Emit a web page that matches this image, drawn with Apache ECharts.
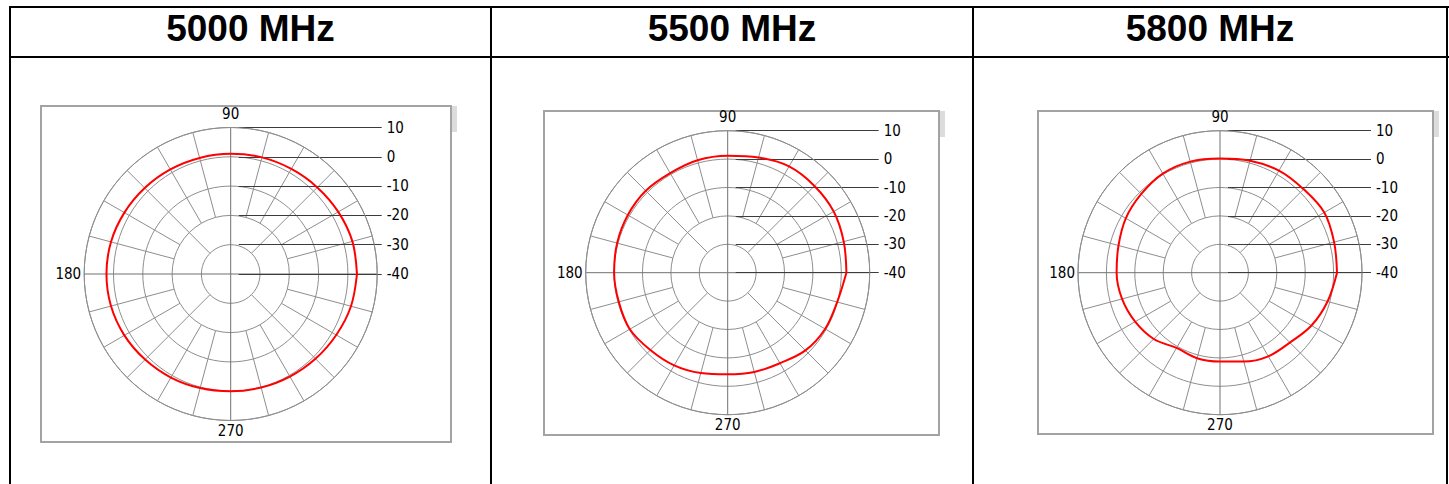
<!DOCTYPE html>
<html>
<head>
<meta charset="utf-8">
<title>Radiation patterns</title>
<script src="https://cdn.jsdelivr.net/npm/echarts@6/dist/echarts.min.js"></script>
<style>
html, body { margin: 0; padding: 0; background: #fff; }
#page { position: relative; width: 1449px; height: 484px; overflow: hidden; }
.ln { position: absolute; background: #000; }
.head { position: absolute; top: 8px; height: 49px; line-height: 49px; text-align: center;
        font: bold 37px 'Liberation Sans', Arial, sans-serif; color: #000; }
.box { position: absolute; border: 2px solid #a3a3a3; box-sizing: border-box; background: #fff; }
.stub { position: absolute; width: 5px; height: 26px; background: #dcdcdc; }
#chart { position: absolute; left: 0; top: 0; width: 1449px; height: 484px; }
</style>
</head>
<body>
<div id="page">
    <!-- table frame -->
    <div class="ln" style="left:9px;top:6px;width:1440px;height:2px"></div>
    <div class="ln" style="left:9px;top:56px;width:1440px;height:2px"></div>
    <div class="ln" style="left:9px;top:6px;width:2px;height:478px"></div>
    <div class="ln" style="left:490px;top:6px;width:2px;height:478px"></div>
    <div class="ln" style="left:972px;top:6px;width:2px;height:478px"></div>
    <div class="ln" style="left:1446px;top:6px;width:2px;height:478px"></div>

    <div class="head" style="left:11px;width:479px">5000 MHz</div>
    <div class="head" style="left:492px;width:480px">5500 MHz</div>
    <div class="head" style="left:974px;width:472px">5800 MHz</div>

    <!-- plot frames -->
    <div class="box" style="left:40px;top:105px;width:412px;height:338px"></div>
    <div class="stub" style="left:452px;top:106px"></div>
    <div class="box" style="left:543px;top:110px;width:397px;height:326px"></div>
    <div class="stub" style="left:940px;top:111px"></div>
    <div class="box" style="left:1037px;top:110px;width:397px;height:325px"></div>
    <div class="stub" style="left:1434px;top:111px"></div>

    <div id="chart"></div>
</div>

<script>
// angles in degrees, gain in dB
const angles = [0, 15, 30, 45, 60, 75, 90, 105, 120, 135, 150, 165,
                180, 195, 210, 225, 240, 255, 270, 285, 300, 315, 330, 345];

const gain5000 = [3.1, 3.0, 2.4, 1.8, 1.4, 1.2, 1.0, 1.0, 1.2, 1.5, 1.9, 2.3,
                  2.4, 2.3, 1.9, 1.3, 0.8, 0.3, 0.0, 0.1, 0.4, 0.9, 1.6, 2.5];
const gain5500 = [1.8, 2.3, 3.1, 3.2, 3.2, 2.0, 1.2, 1.0, 0.5, 0.8, 0.6, 0.3,
                  0.0, -0.3, -0.2, -1.5, -2.3, -3.4, -4.2, -3.8, -3.2, -1.3, -0.4, -0.1];
const gain5800 = [1.2, 1.6, 2.4, 1.6, 1.5, 0.8, 0.2, 0.5, 0.3, -0.8, -1.7, -3.0,
                  -3.6, -4.3, -5.5, -7.0, -9.4, -8.8, -8.7, -7.6, -6.0, -5.2, -2.8, -0.8];

const ringTicks = [10, 0, -10, -20, -30, -40];
const angleLabels = [90, 180, 270];

const panels = [
    { cx: 230.7, cy: 274, R: 146.5, gain: gain5000 },
    { cx: 727.7, cy: 272.7, R: 142, gain: gain5500 },
    { cx: 1220, cy: 272.7, R: 142, gain: gain5800 }
];

const FONT = "'Liberation Sans Narrow', 'DejaVu Sans Condensed', 'Liberation Sans', sans-serif";
const GRID_GRAY = '#8e8e8e';
const AXIS_GRAY = '#707070';
const NONE = 'rgba(0,0,0,0)';

const chart = echarts.init(document.getElementById('chart'), null, { renderer: 'svg' });

const polar = [], angleAxis = [], radiusAxis = [], grid = [], xAxis = [], yAxis = [], series = [];

panels.forEach((p, i) => {
    const base = i * 3;

    // main polar: rings, outer circle, the two axes, angle labels, data
    polar.push({ center: [p.cx, p.cy], radius: [0, p.R] });
    angleAxis.push({
        polarIndex: base, type: 'value', min: 0, max: 360, interval: 90,
        startAngle: 0, clockwise: false,
        axisLine: { show: true, lineStyle: { color: GRID_GRAY, width: 1 } },
        axisTick: { show: false },
        axisLabel: {
            margin: 3, color: '#000', fontSize: 15, fontFamily: FONT,
            formatter: v => angleLabels.indexOf(v) >= 0 ? (v === 90 ? '{t|90}' : String(v)) : '',
            rich: { t: { padding: [0, 0, 3, 0], color: '#000', fontSize: 15, fontFamily: FONT } }
        },
        splitLine: { show: true, lineStyle: { color: AXIS_GRAY, width: 1 } }
    });
    radiusAxis.push({
        polarIndex: base, type: 'value', min: -40, max: 10, interval: 10,
        axisLine: { show: false }, axisTick: { show: false }, axisLabel: { show: false },
        splitLine: { show: true, lineStyle: { color: GRID_GRAY, width: 1 } }
    });

    // 45 degree spokes from the first ring
    polar.push({ center: [p.cx, p.cy], radius: [p.R / 5, p.R] });
    angleAxis.push({
        polarIndex: base + 1, type: 'value', min: 0, max: 360, interval: 45,
        startAngle: 0, clockwise: false,
        axisLine: { show: false }, axisTick: { show: false }, axisLabel: { show: false },
        splitLine: { show: true, lineStyle: { color: [NONE, GRID_GRAY], width: 1 } }
    });
    radiusAxis.push({ polarIndex: base + 1, type: 'value', min: 0, max: 1, show: false });

    // 15 degree spokes from the second ring
    polar.push({ center: [p.cx, p.cy], radius: [p.R * 2 / 5, p.R] });
    angleAxis.push({
        polarIndex: base + 2, type: 'value', min: 0, max: 360, interval: 15,
        startAngle: 0, clockwise: false,
        axisLine: { show: false }, axisTick: { show: false }, axisLabel: { show: false },
        splitLine: { show: true, lineStyle: { color: [NONE, GRID_GRAY, GRID_GRAY, NONE, GRID_GRAY, GRID_GRAY], width: 1 } }
    });
    radiusAxis.push({ polarIndex: base + 2, type: 'value', min: 0, max: 1, show: false });

    // ring value labels with their leader lines
    grid.push({ left: p.cx + 8, top: p.cy - p.R, width: 143, height: p.R, containLabel: false });
    xAxis.push({ gridIndex: i, type: 'value', min: 0, max: 1, show: false });
    yAxis.push({
        gridIndex: i, type: 'value', position: 'right',
        min: ringTicks[ringTicks.length - 1], max: ringTicks[0], interval: 10,
        axisLine: { show: false }, axisTick: { show: false },
        axisLabel: { margin: 5, color: '#000', fontSize: 15, fontFamily: FONT },
        splitLine: { show: true, lineStyle: { color: '#3c3c3c', width: 1 } }
    });

    const data = angles.map((a, k) => [p.gain[k], a]);
    data.push([p.gain[0], 360]);
    series.push({
        type: 'line', coordinateSystem: 'polar', polarIndex: base,
        data: data, smooth: 0.35, symbol: 'none', silent: true, z: 10,
        lineStyle: { color: '#ff0000', width: 2 }
    });
});

chart.setOption({
    animation: false,
    polar: polar,
    angleAxis: angleAxis,
    radiusAxis: radiusAxis,
    grid: grid,
    xAxis: xAxis,
    yAxis: yAxis,
    series: series
});
</script>
</body>
</html>
